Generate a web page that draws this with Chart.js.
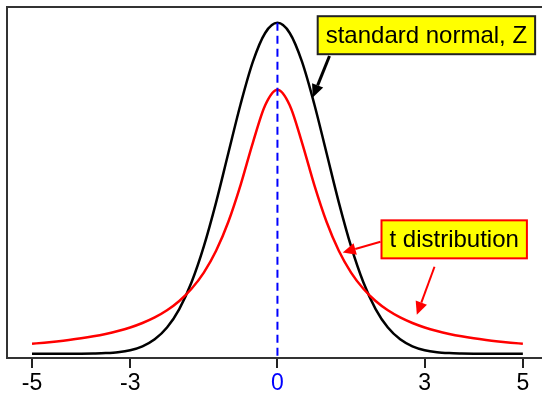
<!DOCTYPE html>
<html>
<head>
<meta charset="utf-8">
<script src="https://cdn.jsdelivr.net/npm/chart.js@4.4.1/dist/chart.umd.min.js"></script>
<style>
  html, body { margin: 0; padding: 0; background: #fff; }
  #wrap { width: 542px; height: 394px; }
</style>
</head>
<body>
<div id="wrap"><canvas id="dist"></canvas></div>
<script>
// density curves, sampled every 0.25
const xs = [-5, -4.75, -4.5, -4.25, -4, -3.75, -3.5, -3.25, -3, -2.75, -2.5, -2.25, -2, -1.75, -1.5, -1.25, -1, -0.75, -0.5, -0.25,
  0, 0.25, 0.5, 0.75, 1, 1.25, 1.5, 1.75, 2, 2.25, 2.5, 2.75, 3, 3.25, 3.5, 3.75, 4, 4.25, 4.5, 4.75, 5];
const normalPdf = [0, 0, 0, 0, 0.0001, 0.0004, 0.0009, 0.0020, 0.0044, 0.0091, 0.0175, 0.0317, 0.0540, 0.0863, 0.1295, 0.1826, 0.2420, 0.3011, 0.3521, 0.3867,
  0.3989, 0.3867, 0.3521, 0.3011, 0.2420, 0.1826, 0.1295, 0.0863, 0.0540, 0.0317, 0.0175, 0.0091, 0.0044, 0.0020, 0.0009, 0.0004, 0.0001, 0, 0, 0, 0];
const tPdf = [0.0122, 0.0135, 0.0150, 0.0167, 0.0187, 0.0211, 0.0240, 0.0275, 0.0318, 0.0372, 0.0439, 0.0525, 0.0637, 0.0784, 0.0979, 0.1242, 0.1592, 0.2037, 0.2546, 0.2996,
  0.3183, 0.2996, 0.2546, 0.2037, 0.1592, 0.1242, 0.0979, 0.0784, 0.0637, 0.0525, 0.0439, 0.0372, 0.0318, 0.0275, 0.0240, 0.0211, 0.0187, 0.0167, 0.0150, 0.0135, 0.0122];
const centreLine = [0.3989, -0.01];
const tickValues = [-5, -3, 0, 3, 5];

const font = '"Liberation Sans", Arial, sans-serif';

// yellow label boxes with arrows, placed in data units
const callouts = [
  { text: "standard normal, Z", x: 0.82, y: 0.384, edge: "#222", ink: "#000", width: 3,
    arrows: [[1.06, 0.359, 0.72, 0.309]] },
  { text: "t distribution", x: 2.12, y: 0.138, edge: "#ff0000", ink: "#ff0000", width: 2,
    arrows: [[2.10, 0.135, 1.33, 0.122], [3.20, 0.105, 2.84, 0.047]] }
];

function drawArrow(ctx, x1, y1, x2, y2, color, width) {
  const ang = Math.atan2(y2 - y1, x2 - x1);
  const head = 13, half = 6;
  const bx = x2 - head * Math.cos(ang);
  const by = y2 - head * Math.sin(ang);
  ctx.save();
  ctx.strokeStyle = color;
  ctx.fillStyle = color;
  ctx.lineWidth = width;
  ctx.beginPath();
  ctx.moveTo(x1, y1);
  ctx.lineTo(bx, by);
  ctx.stroke();
  ctx.beginPath();
  ctx.moveTo(x2, y2);
  ctx.lineTo(bx + half * Math.sin(ang), by - half * Math.cos(ang));
  ctx.lineTo(bx - half * Math.sin(ang), by + half * Math.cos(ang));
  ctx.closePath();
  ctx.fill();
  ctx.restore();
}

const calloutPlugin = {
  id: "callouts",
  afterDraw(chart) {
    const ctx = chart.ctx;
    const sx = chart.scales.x, sy = chart.scales.y;
    callouts.forEach(c => {
      c.arrows.forEach(a => {
        drawArrow(ctx, sx.getPixelForValue(a[0]), sy.getPixelForValue(a[1]),
          sx.getPixelForValue(a[2]), sy.getPixelForValue(a[3]), c.ink, c.width);
      });
      ctx.save();
      ctx.font = "24px " + font;
      const w = ctx.measureText(c.text).width + 16;
      const h = 38;
      const left = sx.getPixelForValue(c.x);
      const top = sy.getPixelForValue(c.y) - h / 2;
      ctx.fillStyle = "#ffff00";
      ctx.fillRect(left, top, w, h);
      ctx.strokeStyle = c.edge;
      ctx.lineWidth = 2;
      ctx.strokeRect(left, top, w, h);
      ctx.fillStyle = "#000";
      ctx.textBaseline = "middle";
      ctx.fillText(c.text, left + 8, top + h / 2 + 1);
      ctx.restore();
    });
  }
};

const pts = ys => xs.map((x, i) => ({ x: x, y: ys[i] }));

new Chart(document.getElementById("dist"), {
  type: "line",
  data: {
    datasets: [
      {
        label: "mean",
        data: centreLine.map(y => ({ x: 0, y: y })),
        borderColor: "#0000ff",
        borderWidth: 2,
        borderDash: [8, 5],
      },
      {
        label: "t distribution",
        data: pts(tPdf),
        borderColor: "#ff0000",
        borderWidth: 2.5,
        cubicInterpolationMode: "monotone",
      },
      {
        label: "standard normal, Z",
        data: pts(normalPdf),
        borderColor: "#000",
        borderWidth: 2.5,
        cubicInterpolationMode: "monotone",
      },
    ],
  },
  options: {
    animation: false,
    responsive: true,
    maintainAspectRatio: false,
    layout: { padding: { left: 7, top: 7, right: 0, bottom: -5 } },
    elements: { point: { radius: 0 } },
    plugins: {
      legend: { display: false },
      tooltip: { enabled: false },
    },
    scales: {
      x: {
        type: "linear",
        position: "bottom",
        min: -5.51,
        max: 5.39,
        afterBuildTicks: s => { s.ticks = tickValues.map(v => ({ value: v })); },
        ticks: {
          autoSkip: false,
          maxRotation: 0,
          padding: 4,
          font: { family: font, size: 23, lineHeight: 1 },
          color: c => (c.tick.value === 0 ? "#0000ff" : "#000"),
        },
        grid: { display: true, drawOnChartArea: false, drawTicks: true, tickLength: 10, color: "#222", lineWidth: 2 },
        border: { display: true, color: "#333", width: 2 },
      },
      x2: {
        type: "linear",
        axis: "x",
        position: "top",
        min: -5.51,
        max: 5.39,
        ticks: { display: false },
        grid: { display: false, drawTicks: false },
        border: { display: true, color: "#333", width: 2 },
      },
      y: {
        min: -0.005,
        max: 0.418,
        ticks: { display: false },
        grid: { display: false, drawTicks: false },
        border: { display: true, color: "#333", width: 2 },
      },
    },
  },
  plugins: [calloutPlugin],
});
</script>
</body>
</html>
